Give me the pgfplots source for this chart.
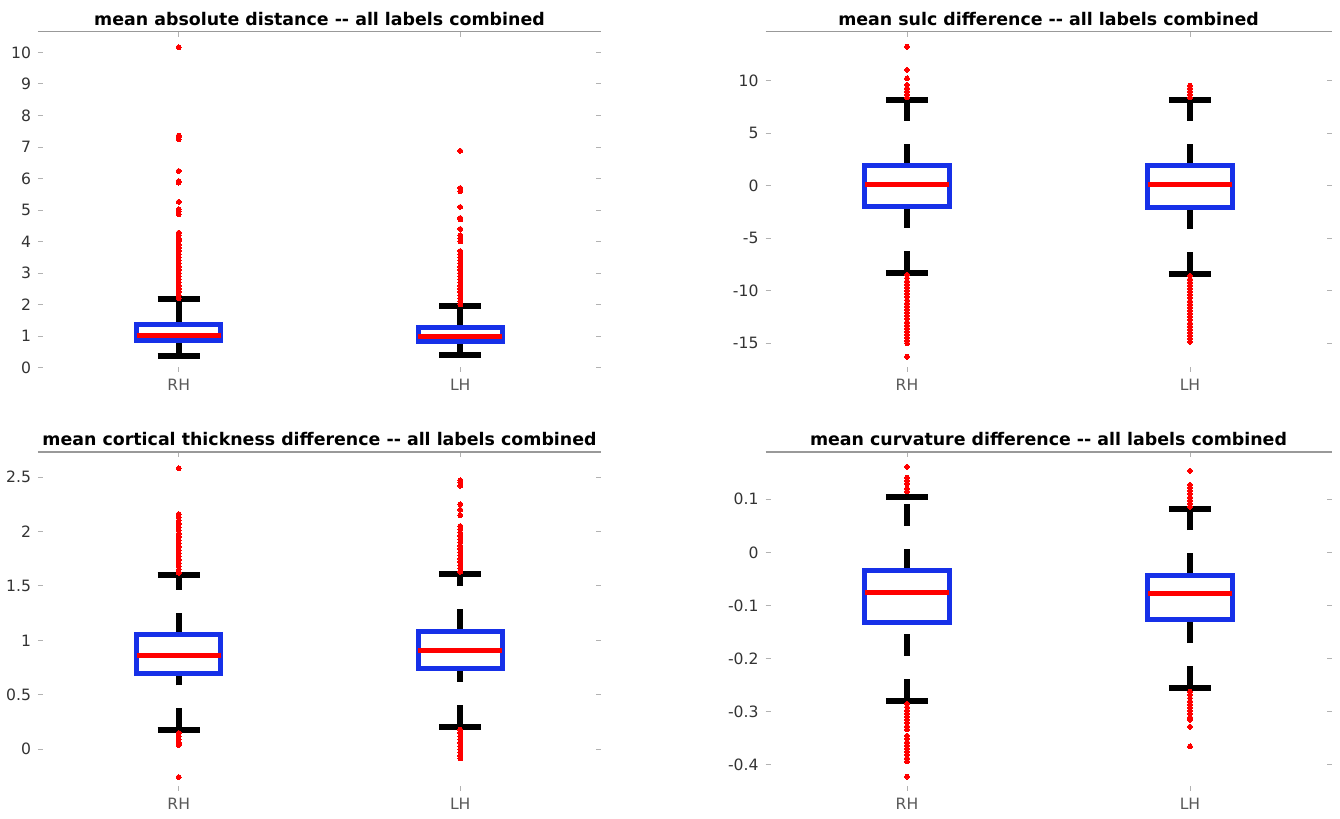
\documentclass[border=0pt]{standalone}
\usepackage{fontspec}
\setmainfont{DejaVu Sans}
\usepackage{pgfplots}
\pgfplotsset{compat=1.18}
\usepgfplotslibrary{statistics}

\definecolor{boxblue}{RGB}{22,48,232}
\definecolor{medred}{RGB}{255,0,0}

\pgfplotsset{
  mbox/.style={
    scale only axis,
    xmin=0.5, xmax=2.5,
    xtick={1,2}, xticklabels={RH,LH},
    axis line style={draw=none},
    tick align=inside,
    major tick length=2.5pt,
    tick style={black!30, line width=0.5pt},
    ticklabel style={font=\fontsize{7.8}{9}\selectfont},
    yticklabel style={text=black!80},
    xticklabel style={text=black!65},
    every axis title shift=0pt,
    title style={font=\bfseries\fontsize{8.7}{10}\selectfont,
                 at={(0.5,1)}, anchor=base, yshift=3pt},
    after end axis/.code={%
      \draw[black!40, line width=0.6pt] (rel axis cs:0,1) -- (rel axis cs:1,1);},
    boxplot/draw direction=y,
    boxplot/box extend=0.30,
    boxplot/whisker extend=0.15,
    boxplot/every box/.style={draw=boxblue, line width=2.5pt},
    boxplot/every median/.style={draw=medred, line width=2.5pt},
    % whisker line dashed from its low end, cap solid
    boxplot/draw/lower whisker/.code={%
      \draw[black, line width=2.8pt, dash pattern=on 11pt off 11.5pt]
        (boxplot box cs:\pgfplotsboxplotvalue{lower whisker},0.5)
        -- (boxplot box cs:\pgfplotsboxplotvalue{lower quartile},0.5);
      \draw[black, line width=3pt]
        (boxplot whisker cs:\pgfplotsboxplotvalue{lower whisker},0)
        -- (boxplot whisker cs:\pgfplotsboxplotvalue{lower whisker},1);},
    boxplot/draw/upper whisker/.code={%
      \draw[black, line width=2.8pt, dash pattern=on 11pt off 11.5pt]
        (boxplot box cs:\pgfplotsboxplotvalue{upper quartile},0.5)
        -- (boxplot box cs:\pgfplotsboxplotvalue{upper whisker},0.5);
      \draw[black, line width=3pt]
        (boxplot whisker cs:\pgfplotsboxplotvalue{upper whisker},0)
        -- (boxplot whisker cs:\pgfplotsboxplotvalue{upper whisker},1);},
  },
  outl/.style={medred, mark=*, mark size=1.2pt,
               mark options={fill=medred, draw=medred, line width=0pt}},
}

\begin{document}
\begin{tikzpicture}
\path[use as bounding box] (0,0) rectangle (670pt,409.5pt);

% ---------------- mean absolute distance ----------------
\begin{axis}[mbox, at={(19pt,223.5pt)}, anchor=south west,
  width=281.5pt, height=170.15pt,
  ymin=-0.14, ymax=10.66,
  ytick={0,1,2,3,4,5,6,7,8,9,10},
  yticklabels={0,1,2,3,4,5,6,7,8,9,10},
  title={mean absolute distance -{}- all labels combined}]
\addplot[outl, boxplot prepared={draw position=1,
  lower whisker=0.37, lower quartile=0.86, median=1.03,
  upper quartile=1.37, upper whisker=2.17}]
  table[row sep=\\, y index=0]{d\\
  2.2\\2.3\\2.4\\2.5\\2.6\\2.7\\2.8\\2.9\\3.0\\3.1\\3.2\\3.3\\3.4\\3.5\\3.6\\
  3.7\\3.8\\3.9\\4.0\\4.05\\4.1\\4.2\\4.28\\4.87\\4.95\\5.03\\5.26\\
  5.87\\5.92\\6.24\\7.25\\7.3\\7.36\\10.17\\};
\addplot[outl, boxplot prepared={draw position=2,
  lower whisker=0.40, lower quartile=0.82, median=0.99,
  upper quartile=1.27, upper whisker=1.95}]
  table[row sep=\\, y index=0]{d\\
  2.0\\2.1\\2.2\\2.3\\2.4\\2.5\\2.6\\2.7\\2.8\\2.9\\3.0\\3.1\\3.2\\3.3\\3.4\\3.5\\
  3.6\\3.7\\4.0\\4.1\\4.2\\4.4\\4.7\\4.75\\5.1\\5.6\\5.7\\6.88\\};
\end{axis}

% ---------------- mean sulc difference ----------------
\begin{axis}[mbox, at={(382.75pt,223.5pt)}, anchor=south west,
  width=283pt, height=170.15pt,
  ymin=-17.76, ymax=14.68,
  ytick={-15,-10,-5,0,5,10},
  yticklabels={-15,-10,-5,0,5,10},
  title={mean sulc difference -{}- all labels combined}]
\addplot[outl, boxplot prepared={draw position=1,
  lower whisker=-8.32, lower quartile=-2.0, median=0.16,
  upper quartile=1.9, upper whisker=8.17}]
  table[row sep=\\, y index=0]{d\\
  8.4\\8.7\\9.0\\9.3\\9.6\\10.24\\11.03\\13.25\\
  -8.5\\-8.8\\-9.1\\-9.4\\-9.7\\-10.0\\-10.3\\-10.6\\-10.9\\-11.2\\-11.5\\
  -11.8\\-12.1\\-12.4\\-12.7\\-13.0\\-13.3\\-13.6\\-13.9\\-14.2\\-14.5\\-14.8\\
  -15.0\\-16.3\\};
\addplot[outl, boxplot prepared={draw position=2,
  lower whisker=-8.41, lower quartile=-2.1, median=0.16,
  upper quartile=1.9, upper whisker=8.16}]
  table[row sep=\\, y index=0]{d\\
  8.4\\8.7\\9.0\\9.3\\9.55\\
  -8.6\\-8.9\\-9.2\\-9.5\\-9.8\\-10.1\\-10.4\\-10.7\\-11.0\\-11.3\\-11.6\\
  -11.9\\-12.2\\-12.5\\-12.8\\-13.1\\-13.4\\-13.7\\-14.0\\-14.3\\-14.6\\-14.9\\};
\end{axis}

% ---------------- mean cortical thickness difference ----------------
\begin{axis}[mbox, at={(19pt,14pt)}, anchor=south west,
  width=281.5pt, height=169.5pt,
  ymin=-0.383, ymax=2.73,
  ytick={0,0.5,1,1.5,2,2.5},
  yticklabels={0,0.5,1,1.5,2,2.5},
  title={mean cortical thickness difference -{}- all labels combined}]
\addplot[outl, boxplot prepared={draw position=1,
  lower whisker=0.174, lower quartile=0.70, median=0.863,
  upper quartile=1.05, upper whisker=1.597}]
  table[row sep=\\, y index=0]{d\\
  1.62\\1.65\\1.68\\1.71\\1.74\\1.77\\1.80\\1.83\\1.86\\1.89\\1.92\\1.95\\
  1.98\\2.01\\2.04\\2.07\\2.10\\2.13\\2.16\\2.58\\
  0.15\\0.12\\0.09\\0.06\\0.04\\-0.255\\};
\addplot[outl, boxplot prepared={draw position=2,
  lower whisker=0.205, lower quartile=0.744, median=0.903,
  upper quartile=1.086, upper whisker=1.613}]
  table[row sep=\\, y index=0]{d\\
  1.63\\1.66\\1.69\\1.72\\1.75\\1.78\\1.81\\1.84\\1.87\\1.90\\1.93\\1.96\\
  1.99\\2.02\\2.05\\2.15\\2.2\\2.25\\2.42\\2.45\\2.47\\
  0.18\\0.15\\0.12\\0.09\\0.06\\0.03\\0.0\\-0.03\\-0.06\\-0.085\\};
\end{axis}

% ---------------- mean curvature difference ----------------
\begin{axis}[mbox, at={(382.75pt,14pt)}, anchor=south west,
  width=283pt, height=169.5pt,
  ymin=-0.449, ymax=0.189,
  ytick={-0.4,-0.3,-0.2,-0.1,0,0.1},
  yticklabels={-0.4,-0.3,-0.2,-0.1,0,0.1},
  title={mean curvature difference -{}- all labels combined}]
\addplot[outl, boxplot prepared={draw position=1,
  lower whisker=-0.279, lower quartile=-0.132, median=-0.0746,
  upper quartile=-0.0345, upper whisker=0.1046}]
  table[row sep=\\, y index=0]{d\\
  0.115\\0.12\\0.13\\0.135\\0.141\\0.161\\
  -0.285\\-0.291\\-0.297\\-0.303\\-0.309\\-0.315\\-0.321\\-0.327\\-0.333\\
  -0.345\\-0.351\\-0.357\\-0.363\\-0.369\\-0.375\\-0.381\\-0.387\\-0.393\\-0.422\\};
\addplot[outl, boxplot prepared={draw position=2,
  lower whisker=-0.2556, lower quartile=-0.126, median=-0.077,
  upper quartile=-0.0426, upper whisker=0.0808}]
  table[row sep=\\, y index=0]{d\\
  0.086\\0.092\\0.098\\0.104\\0.11\\0.116\\0.122\\0.127\\0.1535\\
  -0.262\\-0.268\\-0.274\\-0.280\\-0.286\\-0.292\\-0.298\\-0.304\\-0.31\\
  -0.315\\-0.328\\-0.365\\};
\end{axis}
\end{tikzpicture}
\end{document}
